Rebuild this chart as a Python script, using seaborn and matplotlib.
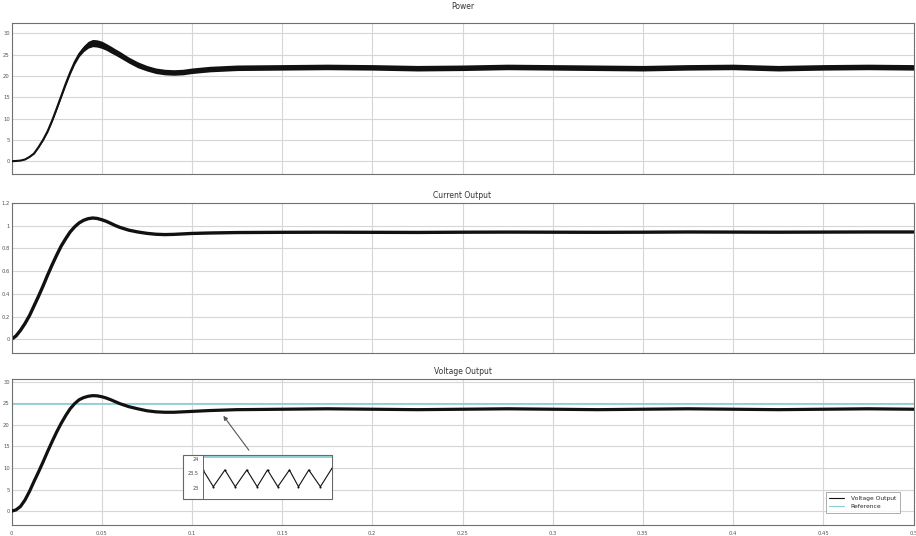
import numpy as np
import pandas as pd
import matplotlib
matplotlib.use("Agg")
import matplotlib.pyplot as plt
from matplotlib.patches import Rectangle
import seaborn as sns

# ---------------- data ----------------
time = [0, 0.0025, 0.005, 0.0075, 0.01, 0.0125, 0.015, 0.0175, 0.02, 0.0225,
        0.025, 0.0275, 0.03, 0.0325, 0.035, 0.0375, 0.04, 0.0425, 0.045, 0.0475,
        0.05, 0.0525, 0.055, 0.0575, 0.06,
        0.065, 0.07, 0.075, 0.08, 0.085, 0.09, 0.095, 0.1,
        0.11, 0.125,
        0.15, 0.175, 0.2, 0.225, 0.25, 0.275, 0.3, 0.325, 0.35, 0.375, 0.4,
        0.425, 0.45, 0.475, 0.5]

power = [0, 0.05, 0.15, 0.4, 1.0, 1.8, 3.3, 5.0, 7.0, 9.5,
         12.3, 15.2, 18.1, 20.8, 23.2, 25.1, 26.4, 27.3, 27.7, 27.6,
         27.3, 26.8, 26.2, 25.6, 25.0,
         23.7, 22.6, 21.8, 21.2, 20.9, 20.8, 20.9, 21.2,
         21.6, 21.9,
         22.0, 22.1, 22.0, 21.8, 21.9, 22.1, 22.0, 21.9, 21.8, 22.0, 22.1,
         21.8, 22.0, 22.1, 22.0]

# half width of the dense switching ripple that thickens the power trace
power_ripple = [0, 0, 0, 0, 0.02, 0.05, 0.1, 0.15, 0.2, 0.25,
                0.3, 0.35, 0.4, 0.45, 0.5, 0.6, 0.7, 0.8, 0.85, 0.85,
                0.85, 0.8, 0.8, 0.75, 0.75,
                0.7, 0.7, 0.65, 0.65, 0.65, 0.65, 0.65, 0.65,
                0.65, 0.65,
                0.65, 0.65, 0.65, 0.65, 0.65, 0.65, 0.65, 0.65, 0.65, 0.65, 0.65,
                0.65, 0.65, 0.65, 0.65]

current = [0, 0.03, 0.08, 0.14, 0.21, 0.295, 0.38, 0.47, 0.565, 0.655,
           0.74, 0.82, 0.885, 0.945, 0.99, 1.025, 1.048, 1.062, 1.068, 1.064,
           1.053, 1.039, 1.021, 1.002, 0.986,
           0.961, 0.945, 0.933, 0.925, 0.922, 0.924, 0.928, 0.932,
           0.936, 0.94,
           0.942, 0.943, 0.942, 0.941, 0.943, 0.944, 0.943, 0.942, 0.943, 0.945, 0.944,
           0.943, 0.944, 0.945, 0.945]

voltage = [0, 0.3, 1.1, 2.6, 4.6, 6.9, 9.1, 11.4, 13.8, 16.1,
           18.3, 20.3, 22.1, 23.7, 24.9, 25.8, 26.3, 26.6, 26.75, 26.7,
           26.5, 26.2, 25.8, 25.35, 24.9,
           24.2, 23.7, 23.25, 23.0, 22.9, 22.9, 23.0, 23.1,
           23.3, 23.5,
           23.6, 23.7, 23.6, 23.5, 23.6, 23.7, 23.6, 23.5, 23.6, 23.7, 23.6,
           23.5, 23.6, 23.7, 23.6]

reference = [24.7] * len(time)

# zoomed ripple (inset)
inset_t = [0, 0.8, 1.7, 2.5, 3.4, 4.2, 5.0, 5.8, 6.7, 7.4, 8.2, 9.1, 10.0]
inset_v = [23.62, 23.05, 23.62, 23.05, 23.62, 23.05, 23.62, 23.05, 23.62, 23.05,
           23.62, 23.05, 23.68]
inset_ref = [24.05] * len(inset_t)

titles = ["Power", "Current Output", "Voltage Output"]
xticks = [0, 0.05, 0.1, 0.15, 0.2, 0.25, 0.3, 0.35, 0.4, 0.45, 0.5]
xtick_labels = ["0", "0.05", "0.1", "0.15", "0.2", "0.25", "0.3", "0.35", "0.4", "0.45", "0.5"]
power_ticks = [0, 5, 10, 15, 20, 25, 30]
current_ticks = [0, 0.2, 0.4, 0.6, 0.8, 1, 1.2]
voltage_ticks = [0, 5, 10, 15, 20, 25, 30]
inset_ticks = [23, 23.5, 24]
legend_labels = ["Voltage Output", "Reference"]

df = pd.DataFrame({"t": time, "power": power, "current": current,
                   "voltage": voltage, "reference": reference})
dfi = pd.DataFrame({"t": inset_t, "v": inset_v, "ref": inset_ref})

# ---------------- figure ----------------
sns.set_theme(style="whitegrid")
plt.rcParams["font.family"] = ["DejaVu Sans"]

W, H = 916, 536
fig = plt.figure(figsize=(W / 100, H / 100), dpi=100)
fig.patch.set_facecolor("white")

def px_axes(x0, y0, x1, y1):
    return fig.add_axes([x0 / W, 1 - y1 / H, (x1 - x0) / W, (y1 - y0) / H])

ax1 = px_axes(11.5, 23, 913.5, 174)
ax2 = px_axes(11.5, 203, 913.5, 353)
ax3 = px_axes(11.5, 379, 913.5, 525)

grid_c = "#d6d6d6"
spine_c = "#707070"
ref_c = "#86cdd6"

def style(ax, yticks, ylim, title, show_x, tpad):
    ax.set_facecolor("white")
    ax.set_xlim(0, 0.5)
    ax.set_ylim(*ylim)
    ax.set_xticks(xticks)
    ax.set_yticks(yticks)
    ax.set_yticklabels([("%g" % v) for v in yticks])
    if show_x:
        ax.set_xticklabels(xtick_labels)
    else:
        ax.set_xticklabels([])
    ax.grid(True, color=grid_c, lw=0.8)
    for s in ax.spines.values():
        s.set_color(spine_c)
        s.set_linewidth(0.8)
        s.set_visible(True)
    ax.tick_params(axis="both", labelsize=3.8, colors="#555555", width=0.6,
                   direction="out")
    ax.tick_params(axis="y", length=0, pad=1.2)
    ax.tick_params(axis="x", length=3 if show_x else 0, pad=1.5)
    ax.set_xlabel("")
    ax.set_ylabel("")
    ax.set_title(title, fontsize=5.5, color="#333333", pad=tpad)

# Power: ripple band + centre trace
ax1.fill_between(df["t"], df["power"] - np.array(power_ripple),
                 df["power"] + np.array(power_ripple), color="#111111",
                 lw=0, zorder=2)
sns.lineplot(data=df, x="t", y="power", ax=ax1, color="#111111", lw=1.5, zorder=3)
style(ax1, power_ticks, (-3, 32.4), titles[0], False, 10)

sns.lineplot(data=df, x="t", y="current", ax=ax2, color="#111111", lw=2.4)
style(ax2, current_ticks, (-0.12, 1.2), titles[1], False, 3.8)

sns.lineplot(data=df, x="t", y="reference", ax=ax3, color=ref_c, lw=1.2,
             label=legend_labels[1], zorder=2)
sns.lineplot(data=df, x="t", y="voltage", ax=ax3, color="#111111", lw=2.3,
             label=legend_labels[0], zorder=3)
style(ax3, voltage_ticks, (-3.2, 30.6), titles[2], True, 3.8)

h, l = ax3.get_legend_handles_labels()
leg = ax3.legend([h[1], h[0]], [l[1], l[0]], loc="lower right",
                 bbox_to_anchor=(0.988, 0.065), fontsize=4.3, frameon=True,
                 fancybox=False, edgecolor="#888888", handlelength=2.4,
                 borderpad=0.6, labelspacing=0.45, handletextpad=1.2)
leg.get_frame().set_linewidth(0.6)
for line in leg.get_lines():
    line.set_linewidth(0.8)

# arrow from inset to the curve
ax3.annotate("", xy=(0.1165, 22.6), xytext=(0.1325, 13.6),
             arrowprops=dict(arrowstyle="-|>", color="#555555", lw=0.8,
                             mutation_scale=6))

# inset frame and inset axes
fig.patches.append(Rectangle((183 / W, 1 - 499 / H), 149 / W, 44 / H,
                             transform=fig.transFigure, facecolor="white",
                             edgecolor="#666666", lw=0.8, zorder=1))
axi = px_axes(203, 455, 332, 499)
axi.set_zorder(2)
sns.lineplot(data=dfi, x="t", y="ref", ax=axi, color=ref_c, lw=1.3)
sns.lineplot(data=dfi, x="t", y="v", ax=axi, color="#111111", lw=0.8,
             marker="o", markersize=1.5, markeredgewidth=0)
axi.set_xlim(0, 10)
axi.set_ylim(22.63, 24.13)
axi.set_yticks(inset_ticks)
axi.set_yticklabels(["23", "23.5", "24"])
axi.set_xticks([])
axi.set_xlabel("")
axi.set_ylabel("")
axi.set_facecolor("white")
axi.grid(False)
for s in axi.spines.values():
    s.set_color("#666666")
    s.set_linewidth(0.7)
axi.tick_params(axis="y", labelsize=3.5, colors="#444444", pad=1, length=2, width=0.5)

fig.savefig("out.png", dpi=100, facecolor="white")
